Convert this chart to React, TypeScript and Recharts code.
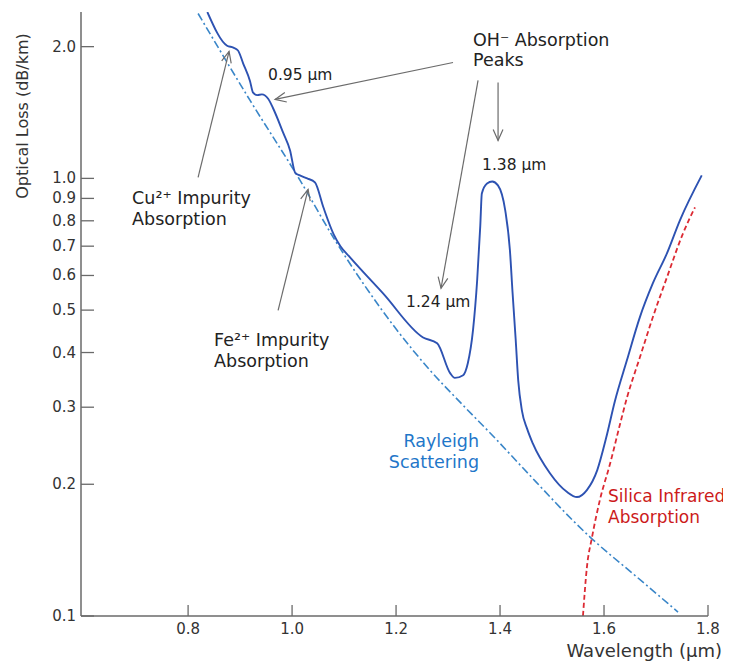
import React from 'react';
import { LineChart, Line, XAxis, YAxis, ReferenceLine, ReferenceDot } from 'recharts';

const FONT = "'DejaVu Sans', Verdana, sans-serif";

// Measured attenuation of silica fibre (dB/km) vs wavelength (µm)
const lossWavelength = [
  0.837, 0.875, 0.887, 0.896, 0.906, 0.919, 0.925, 0.933, 0.942, 0.954,
  0.963, 0.983, 0.996, 1.006, 1.015, 1.029, 1.044, 1.060, 1.080, 1.093,
  1.1115, 1.175, 1.252, 1.279, 1.304, 1.313, 1.329, 1.338, 1.348, 1.356,
  1.362, 1.365, 1.375, 1.385, 1.396, 1.410, 1.419, 1.424, 1.430, 1.435,
  1.442, 1.452, 1.463, 1.496, 1.529, 1.548, 1.567, 1.587, 1.604, 1.621,
  1.644, 1.669, 1.694, 1.721, 1.746, 1.788,
];
const lossValue = [
  2.40, 2.01, 1.99, 1.96, 1.83, 1.67, 1.57, 1.55, 1.556, 1.52,
  1.45, 1.27, 1.16, 1.03, 1.016, 1.0, 0.979, 0.86, 0.745, 0.70,
  0.66, 0.546, 0.433, 0.42, 0.359, 0.35, 0.355, 0.378, 0.45, 0.585,
  0.78, 0.924, 0.974, 0.984, 0.964, 0.845, 0.685, 0.55, 0.43, 0.345,
  0.295, 0.268, 0.248, 0.212, 0.192, 0.187, 0.194, 0.2155, 0.255, 0.31,
  0.384, 0.482, 0.576, 0.674, 0.802, 1.016,
];

const rayleighWavelength = [0.8192, 0.9192, 1.0154, 1.0827, 1.1365, 1.2019, 1.2654, 1.3288, 1.3942, 1.4442, 1.5731, 1.6635, 1.7423];
const rayleighValue = [2.381, 1.507, 0.9895, 0.722, 0.576, 0.4498, 0.3643, 0.3031, 0.2522, 0.2178, 0.1515, 0.1227, 0.1021];

const infraredWavelength = [1.5595, 1.567, 1.577, 1.592, 1.612, 1.631, 1.644, 1.669, 1.694, 1.721, 1.752, 1.775];
const infraredValue = [0.1, 0.129, 0.1515, 0.184, 0.2236, 0.275, 0.315, 0.39, 0.482, 0.594, 0.749, 0.859];

const xTicks = [0.8, 1.0, 1.2, 1.4, 1.6, 1.8];
const yTicks = [0.1, 0.2, 0.3, 0.4, 0.5, 0.6, 0.7, 0.8, 0.9, 1.0, 2.0];

// Annotation text blocks (anchored in data coordinates)
const textBlocks = [
  { x: 0.9538, y: 1.674, lines: ['0.95 μm'], size: 15.5, color: '#222', anchor: 'start' },
  { x: 1.348, y: 2.012, lines: ['OH⁻ Absorption', 'Peaks'], size: 17.5, color: '#222', anchor: 'start' },
  { x: 1.3654, y: 1.043, lines: ['1.38 μm'], size: 15.5, color: '#222', anchor: 'start' },
  { x: 1.2192, y: 0.5075, lines: ['1.24 μm'], size: 15.5, color: '#222', anchor: 'start' },
  { x: 0.6923, y: 0.872, lines: ['Cu²⁺ Impurity', 'Absorption'], size: 17.5, color: '#222', anchor: 'start' },
  { x: 0.85, y: 0.4135, lines: ['Fe²⁺ Impurity', 'Absorption'], size: 17.5, color: '#222', anchor: 'start' },
  { x: 1.3596, y: 0.243, lines: ['Rayleigh', 'Scattering'], size: 17.5, color: '#1f77c9', anchor: 'end' },
  { x: 1.6077, y: 0.182, lines: ['Silica Infrared', 'Absorption'], size: 17, color: '#cc1a1a', anchor: 'start' },
];

// Pointer arrows: tail -> head
const arrows = [
  { from: { x: 0.8192, y: 1.005 }, to: { x: 0.8788, y: 1.95 } },
  { from: { x: 1.3096, y: 1.84 }, to: { x: 0.9673, y: 1.515 } },
  { from: { x: 0.9731, y: 0.4996 }, to: { x: 1.0308, y: 0.944 } },
  { from: { x: 1.3577, y: 1.674 }, to: { x: 1.2865, y: 0.561 } },
  { from: { x: 1.3962, y: 1.656 }, to: { x: 1.3962, y: 1.221 } },
];

const toPoints = (xs: number[], ys: number[]) => xs.map((x, i) => ({ x, y: ys[i] }));
const lossData = toPoints(lossWavelength, lossValue);
const rayleighData = toPoints(rayleighWavelength, rayleighValue);
const infraredData = toPoints(infraredWavelength, infraredValue);

const AXIS = '#6a6a6a';

const YTick = (props: any) => {
  const { x, y, payload } = props;
  return (
    <g>
      <line x1={x} x2={x + 13} y1={y} y2={y} stroke={AXIS} strokeWidth={1.3} />
      <text x={x - 5} y={y} textAnchor="end" dominantBaseline="central" fontSize={15} fontFamily={FONT} fill="#333">
        {Number(payload.value).toFixed(1)}
      </text>
    </g>
  );
};

const XTick = (props: any) => {
  const { x, y, payload } = props;
  return (
    <g>
      <line x1={x} x2={x} y1={y} y2={y - 11} stroke={AXIS} strokeWidth={1.3} />
      <text x={x} y={y + 13} textAnchor="middle" dominantBaseline="central" fontSize={15} fontFamily={FONT} fill="#333">
        {Number(payload.value).toFixed(1)}
      </text>
    </g>
  );
};

const ArrowShape = (props: any) => {
  const { x1, y1, x2, y2 } = props;
  const a = Math.atan2(y2 - y1, x2 - x1);
  const len = 12;
  const spread = 0.42;
  const ax = x2 - len * Math.cos(a - spread);
  const ay = y2 - len * Math.sin(a - spread);
  const bx = x2 - len * Math.cos(a + spread);
  const by = y2 - len * Math.sin(a + spread);
  return (
    <g>
      <line x1={x1} y1={y1} x2={x2} y2={y2} stroke="#6b6b6b" strokeWidth={1.2} />
      <polyline points={`${ax},${ay} ${x2},${y2} ${bx},${by}`} fill="none" stroke="#6b6b6b" strokeWidth={1.2} />
    </g>
  );
};

const makeText = (b: any) => (props: any) => (
  <text x={props.cx} y={props.cy} textAnchor={b.anchor} fontSize={b.size} fontFamily={FONT} fill={b.color}>
    {b.lines.map((l: string, i: number) => (
      <tspan key={i} x={props.cx} dy={i === 0 ? 0 : 20.5}>
        {l}
      </tspan>
    ))}
  </text>
);

export default function App() {
  return (
    <LineChart width={723} height={654} margin={{ top: 4, right: 23, bottom: 0, left: 0 }}>
      <XAxis
        type="number"
        dataKey="x"
        domain={[0.594, 1.8]}
        ticks={xTicks}
        interval={0}
        allowDataOverflow
        height={46}
        tickSize={0}
        tickMargin={0}
        tickLine={false}
        tick={<XTick />}
        axisLine={{ stroke: AXIS, strokeWidth: 1.5 }}
        label={{
          content: (p: any) => {
            const vb = p.viewBox || { x: 73, y: 608, width: 627, height: 46 };
            return (
              <text x={vb.x + vb.width + 14} y={vb.y + 41} textAnchor="end" fontSize={18} fontFamily={FONT} fill="#333">
                Wavelength (μm)
              </text>
            );
          },
        }}
      />
      <YAxis
        type="number"
        dataKey="y"
        scale="log"
        domain={[0.1, 2.4]}
        ticks={yTicks}
        interval={0}
        allowDataOverflow
        width={73}
        tickSize={0}
        tickMargin={0}
        tickLine={false}
        tick={<YTick />}
        axisLine={{ stroke: AXIS, strokeWidth: 1.5 }}
        label={{
          content: (p: any) => {
            const vb = p.viewBox || { x: 0, y: 4 };
            const cx = vb.x + 14;
            const cy = vb.y + 104;
            return (
              <text
                x={cx}
                y={cy}
                transform={`rotate(-90 ${cx} ${cy})`}
                textAnchor="middle"
                dominantBaseline="central"
                fontSize={16}
                fontFamily={FONT}
                fill="#333"
              >
                Optical Loss (dB/km)
              </text>
            );
          },
        }}
      />
      <Line
        data={rayleighData}
        dataKey="y"
        type="monotone"
        stroke="#3a86c8"
        strokeWidth={1.6}
        strokeDasharray="8 3 2 3"
        dot={false}
        activeDot={false}
        isAnimationActive={false}
      />
      <Line
        data={infraredData}
        dataKey="y"
        type="monotone"
        stroke="#dc2a33"
        strokeWidth={1.8}
        strokeDasharray="5 3"
        dot={false}
        activeDot={false}
        isAnimationActive={false}
      />
      <Line
        data={lossData}
        dataKey="y"
        type="monotone"
        stroke="#2d52b2"
        strokeWidth={1.9}
        dot={false}
        activeDot={false}
        isAnimationActive={false}
      />
      {arrows.map((a, i) => (
        <ReferenceLine key={`arr${i}`} segment={[a.from, a.to]} ifOverflow="visible" shape={ArrowShape} />
      ))}
      {textBlocks.map((b, i) => (
        <ReferenceDot key={`txt${i}`} x={b.x} y={b.y} r={1} ifOverflow="visible" shape={makeText(b)} />
      ))}
    </LineChart>
  );
}
